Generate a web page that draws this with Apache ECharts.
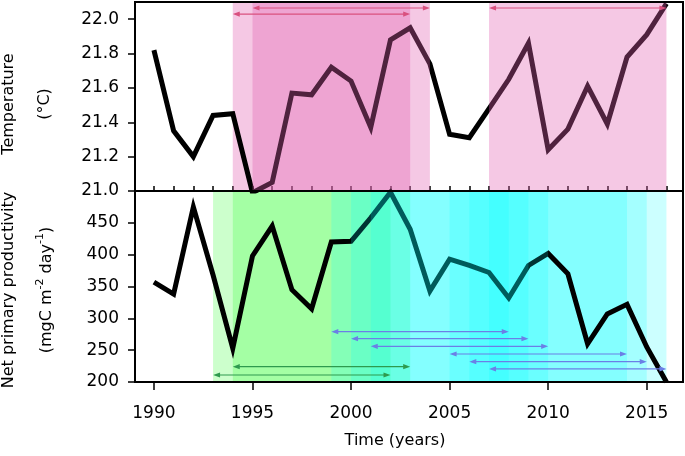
<!DOCTYPE html>
<html><head><meta charset="utf-8">
<script src="https://cdn.jsdelivr.net/npm/echarts@6/dist/echarts.min.js"></script>
<style>html,body{margin:0;padding:0;background:#fff}#c{width:685px;height:456px}</style>
</head><body><div id="c"></div>
<script>
// ---- data ----
const years = [1990,1991,1992,1993,1994,1995,1996,1997,1998,1999,2000,2001,2002,2003,2004,2005,2006,2007,2008,2009,2010,2011,2012,2013,2014,2015,2016];
const temperature = [21.82,21.35,21.20,21.44,21.45,20.99,21.05,21.57,21.56,21.72,21.64,21.37,21.88,21.95,21.74,21.33,21.31,21.48,21.65,21.86,21.24,21.36,21.61,21.39,21.78,21.91,22.09];
const npp = [357,338,475,368,253,398,445,345,315,420,421,458,498,440,343,393,383,372,332,383,402,370,260,307,322,255,200];
const xTickYears = [1990,1995,2000,2005,2010,2015];
const xMinorYears = [1990,1991,1992,1993,1994,1995,1996,1997,1998,1999,2000,2001,2002,2003,2004,2005,2006,2007,2008,2009,2010,2011,2012,2013,2014,2015,2016];
const tempTicks = [21.0,21.2,21.4,21.6,21.8,22.0];
const nppTicks = [200,250,300,350,400,450];
// shaded windows [start, end]
const tempSpansBelow = [[1994,2003]];
const tempSpansAbove = [[1995,2004],[2007,2016]];
const greenSpans = [[1993,2002],[1994,2003]];
const cyanSpansBelow = [[1999,2008],[2005,2014],[2006,2015],[2007,2016]];
const cyanSpansAbove = [[2000,2009],[2001,2010]];
// arrows [start, end, level]
const tempArrows = [[1995,2004,22.065],[1994,2003,22.03],[2007,2016,22.065]];
const greenArrows = [[1994,2003,224],[1993,2002,211]];
const blueArrows = [[1999,2008,279],[2000,2009,268],[2001,2010,256],[2005,2014,244],[2006,2015,232],[2007,2016,220.5]];

const XMIN = 1989.04, XMAX = 2016.84;
const FONT = 'DejaVu Sans';
const PINK = 'rgba(226,98,178,0.35)';
const GREEN = 'rgba(0,255,0,0.2)';
const CYAN = 'rgba(0,255,255,0.2)';

function spanItem(color){
  return function(params, api){
    const cs = params.coordSys;
    const x0 = api.coord([api.value(0), api.value(1)])[0];
    const x1 = api.coord([api.value(1), api.value(1)])[0];
    return {type:'rect', shape:{x:x0, y:cs.y, width:x1-x0, height:cs.height}, style:{fill:color}};
  };
}
function arrowItem(color){
  return function(params, api){
    const p0 = api.coord([api.value(0), api.value(2)]);
    const p1 = api.coord([api.value(1), api.value(2)]);
    const L = 7, W = 2.6;
    return {type:'group', children:[
      {type:'line', shape:{x1:p0[0]+3, y1:p0[1], x2:p1[0]-3, y2:p1[1]}, style:{stroke:color, lineWidth:1.2}},
      {type:'polygon', shape:{points:[[p0[0],p0[1]],[p0[0]+L,p0[1]-W],[p0[0]+L,p0[1]+W]]}, style:{fill:color}},
      {type:'polygon', shape:{points:[[p1[0],p1[1]],[p1[0]-L,p1[1]-W],[p1[0]-L,p1[1]+W]]}, style:{fill:color}}
    ]};
  };
}
function spanSeries(data, color, xi, yi, z){
  return {type:'custom', xAxisIndex:xi, yAxisIndex:yi, z:z, silent:true, animation:false,
    renderItem: spanItem(color), encode:{x:[0,1]}, data:data};
}
function arrowSeries(data, color, xi, yi){
  return {type:'custom', xAxisIndex:xi, yAxisIndex:yi, z:6, silent:true, animation:false,
    renderItem: arrowItem(color), encode:{x:[0,1], y:2}, data:data};
}

const chart = echarts.init(document.getElementById('c'), null, {renderer:'canvas'});
const lbl = {color:'#000', fontSize:17, fontFamily:FONT};
chart.setOption({
  animation:false,
  grid:[
    {left:135, top:2, width:548, height:189, show:true, borderColor:'#000', borderWidth:2, z:10},
    {left:135, top:191, width:548, height:191, show:true, borderColor:'#000', borderWidth:2, z:10}
  ],
  xAxis:[
    {gridIndex:0, type:'value', min:XMIN, max:XMAX, axisLine:{show:false}, axisTick:{show:false}, axisLabel:{show:false}, splitLine:{show:false}},
    {gridIndex:1, type:'value', min:XMIN, max:XMAX, axisLine:{show:false}, splitLine:{show:false},
      axisTick:{show:true, length:8, lineStyle:{color:'#000', width:1.5}, customValues:xTickYears},
      axisLabel:Object.assign({customValues:xTickYears, margin:23, formatter:v=>String(Math.round(v))}, lbl)},
    {gridIndex:1, type:'value', min:XMIN, max:XMAX, axisLine:{show:false}, splitLine:{show:false}, axisLabel:{show:false},
      axisTick:{show:true, length:5, lineStyle:{color:'#000', width:1.5}, customValues:xMinorYears}}
  ],
  yAxis:[
    {gridIndex:0, type:'value', min:21, max:22.1, axisLine:{show:false}, splitLine:{show:false},
      axisTick:{show:true, length:7, lineStyle:{color:'#000', width:1.5}, customValues:tempTicks},
      axisLabel:Object.assign({customValues:tempTicks, margin:16, formatter:v=>Number(v).toFixed(1)}, lbl)},
    {gridIndex:1, type:'value', min:200, max:500, axisLine:{show:false}, splitLine:{show:false},
      axisTick:{show:true, length:7, lineStyle:{color:'#000', width:1.5}, customValues:nppTicks},
      axisLabel:Object.assign({customValues:nppTicks, margin:16, formatter:v=>String(Math.round(v))}, lbl)}
  ],
  series:[
    spanSeries(tempSpansBelow, PINK, 0, 0, 1),
    {type:'line', xAxisIndex:0, yAxisIndex:0, z:2, data:years.map((y,i)=>[y,temperature[i]]), showSymbol:false, symbol:'none',
      lineStyle:{color:'#000', width:5, join:'miter'}, silent:true},
    spanSeries(tempSpansAbove, PINK, 0, 0, 3),
    arrowSeries(tempArrows, '#d9507f', 0, 0),

    spanSeries(greenSpans, GREEN, 1, 1, 1),
    spanSeries(cyanSpansBelow, CYAN, 1, 1, 1),
    {type:'line', xAxisIndex:1, yAxisIndex:1, z:2, data:years.map((y,i)=>[y,npp[i]]), showSymbol:false, symbol:'none',
      lineStyle:{color:'#000', width:5, join:'miter'}, silent:true},
    spanSeries(cyanSpansAbove, CYAN, 1, 1, 3),
    arrowSeries(greenArrows, '#2e9a4e', 1, 1),
    arrowSeries(blueArrows, '#6b7fe6', 1, 1)
  ],
  graphic:[
    {type:'text', x:9, y:104, rotation:Math.PI/2, style:{text:'Temperature', font:'16px "DejaVu Sans"', fill:'#000', align:'center', verticalAlign:'middle'}},
    {type:'text', x:45, y:104, rotation:Math.PI/2, style:{text:'(°C)', font:'16px "DejaVu Sans"', fill:'#000', align:'center', verticalAlign:'middle'}},
    {type:'text', x:9, y:290, rotation:Math.PI/2, style:{text:'Net primary productivity', font:'16px "DejaVu Sans"', fill:'#000', align:'center', verticalAlign:'middle'}},
    {type:'text', x:45, y:290, rotation:Math.PI/2, style:{
      text:'{a|(mgC m}{s|-2}{a| day}{s|-1}{a|)}', align:'center', verticalAlign:'middle',
      rich:{a:{fontSize:16, fontFamily:FONT, fill:'#000', lineHeight:20, verticalAlign:'bottom'}, s:{fontSize:11, fontFamily:FONT, fill:'#000', lineHeight:20, verticalAlign:'top'}}}},
    {type:'text', x:395, y:441, style:{text:'Time (years)', font:'16px "DejaVu Sans"', fill:'#000', align:'center', verticalAlign:'middle'}}
  ]
});
</script>
</body></html>
